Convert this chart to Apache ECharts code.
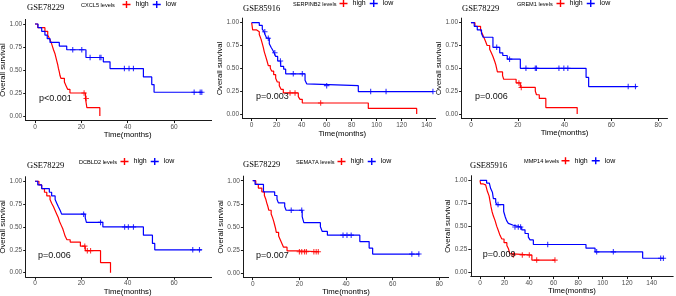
<!DOCTYPE html>
<html>
<head>
<meta charset="utf-8">
<script src="https://cdn.jsdelivr.net/npm/echarts@6/dist/echarts.min.js"></script>
<style>
html, body { margin: 0; padding: 0; background: #fff; }
#wrap { position: relative; width: 676px; height: 296px; overflow: hidden; }
</style>
</head>
<body>
<div id="wrap"></div>
<script>
// panel texts
var genes = ['CXCL5', 'SERPINB2', 'GREM1', 'DCBLD2', 'SEMA7A', 'MMP14'];
var cohorts = ['GSE78229', 'GSE85916', 'GSE78229', 'GSE78229', 'GSE78229', 'GSE85916'];
var pLabels = ['p<0.001', 'p=0.003', 'p=0.006', 'p=0.006', 'p=0.007', 'p=0.009'];
var groups = ['high', 'low'];
var yTicks = [0, 0.25, 0.5, 0.75, 1];
var xTicksShort = [0, 20, 40, 60, 80];
var xTicksLong = [0, 20, 40, 60, 80, 100, 120, 140];

// KM steps [time, survival], censor marks [time, survival]
var cxcl5High = [[0, 1], [1.2, 0.96], [4.3, 0.92], [5.5, 0.88], [6.3, 0.84], [7, 0.8], [7.5, 0.76], [8, 0.72], [8.6, 0.68], [9, 0.64], [9.4, 0.6], [9.8, 0.56], [10.1, 0.52], [10.5, 0.48], [10.8, 0.44], [11.2, 0.41], [12.7, 0.37], [13.4, 0.33], [14.1, 0.29], [15.1, 0.25], [21.8, 0.19], [22.4, 0.09], [28, 0]];
var cxcl5HighCens = [[21.2, 0.25], [22.1, 0.19]];
var cxcl5Low = [[0, 1], [1.3, 0.96], [2.9, 0.92], [4.3, 0.88], [5.3, 0.84], [6.5, 0.8], [10.5, 0.76], [13.7, 0.72], [22, 0.636], [29.5, 0.589], [32.4, 0.516], [46.8, 0.425], [50.4, 0.342], [51.4, 0.258], [72, 0.258]];
var cxcl5LowCens = [[16.3, 0.72], [20.2, 0.72], [23.8, 0.636], [28, 0.636], [28.5, 0.636], [38.6, 0.516], [40.6, 0.516], [42.5, 0.516], [68.7, 0.258], [71.3, 0.258], [72, 0.258]];

var serpinb2High = [[0, 1], [0.8, 0.92], [4, 0.9], [6.1, 0.87], [7.5, 0.82], [8.5, 0.77], [9.3, 0.73], [10.1, 0.68], [11.2, 0.63], [12.3, 0.58], [13.3, 0.53], [14.9, 0.5], [16, 0.47], [17.6, 0.43], [19.2, 0.39], [20.5, 0.35], [22.1, 0.31], [23.5, 0.27], [25.3, 0.23], [37.3, 0.19], [38.7, 0.16], [40.5, 0.12], [93.3, 0.06], [132, 0]];
var serpinb2HighCens = [[30.7, 0.23], [34.7, 0.23], [55.2, 0.12]];
var serpinb2Low = [[0, 1], [6.1, 0.97], [8.5, 0.93], [9.9, 0.9], [10.7, 0.87], [12, 0.83], [14.1, 0.77], [15.5, 0.73], [16.8, 0.7], [17.9, 0.67], [19.2, 0.63], [20.8, 0.58], [23.2, 0.52], [25.6, 0.49], [27.2, 0.44], [42.7, 0.37], [44, 0.33], [45.3, 0.31], [85.3, 0.245], [145, 0.245]];
var serpinb2LowCens = [[10.5, 0.9], [13.3, 0.83], [18.5, 0.67], [23, 0.58], [33.3, 0.44], [40.5, 0.44], [60, 0.31], [95.2, 0.245], [107.5, 0.245], [145, 0.245]];

var grem1High = [[0, 1], [1.7, 0.96], [4.1, 0.92], [4.8, 0.88], [5.5, 0.84], [6.3, 0.79], [6.9, 0.75], [8, 0.71], [8.7, 0.67], [9.4, 0.63], [10.1, 0.58], [10.6, 0.54], [11.3, 0.46], [13.5, 0.42], [14, 0.38], [19.3, 0.34], [21.1, 0.29], [27.5, 0.25], [28, 0.21], [29.2, 0.17], [32, 0.07], [45.4, 0]];
var grem1HighCens = [[20.5, 0.34], [21.5, 0.29]];
var grem1Low = [[0, 1], [1.4, 0.96], [2.7, 0.92], [4.5, 0.88], [5.2, 0.84], [9.4, 0.73], [12.3, 0.67], [13.6, 0.64], [15.5, 0.6], [21.1, 0.5], [49.2, 0.4], [50.3, 0.3], [71, 0.3]];
var grem1LowCens = [[11, 0.73], [16.5, 0.6], [23.5, 0.5], [27.5, 0.5], [28, 0.5], [37.6, 0.5], [39.7, 0.5], [41.4, 0.5], [67.2, 0.3], [70.3, 0.3]];

var dcbld2High = [[0, 1], [1.7, 0.96], [2.9, 0.92], [4.1, 0.88], [5.1, 0.84], [6.5, 0.8], [7.2, 0.76], [8, 0.72], [8.7, 0.68], [9.4, 0.64], [10.1, 0.6], [10.6, 0.56], [11.3, 0.52], [12, 0.48], [12.5, 0.44], [13, 0.4], [13.8, 0.36], [15.2, 0.335], [19.6, 0.29], [21.7, 0.24], [28.3, 0.11], [32.6, 0]];
var dcbld2HighCens = [[21.5, 0.29], [22.6, 0.24], [24, 0.24]];
var dcbld2Low = [[0, 1], [1.2, 0.96], [2.9, 0.92], [6.2, 0.88], [7.2, 0.84], [8.7, 0.8], [9.4, 0.76], [10.1, 0.72], [10.9, 0.68], [11.5, 0.64], [21.7, 0.6], [22.2, 0.55], [29.3, 0.5], [46.8, 0.41], [50.7, 0.32], [51.7, 0.25], [72, 0.25]];
var dcbld2LowCens = [[21, 0.64], [28.3, 0.55], [38.7, 0.5], [40.3, 0.5], [42.5, 0.5], [68.1, 0.25], [71, 0.25]];

var sema7aHigh = [[0, 1], [1.3, 0.96], [2.4, 0.92], [3.9, 0.88], [5, 0.84], [5.6, 0.8], [6, 0.76], [6.5, 0.72], [6.9, 0.68], [7.9, 0.64], [8.5, 0.6], [9, 0.56], [9.4, 0.52], [9.8, 0.48], [10.1, 0.44], [11.1, 0.4], [11.8, 0.36], [12.5, 0.32], [13.2, 0.28], [14.7, 0.24], [19.5, 0.23], [28.5, 0.23]];
var sema7aHighCens = [[20, 0.23], [21, 0.23], [22.2, 0.23], [23, 0.23], [26.2, 0.23], [27.2, 0.23], [28.1, 0.23]];
var sema7aLow = [[0, 1], [1, 0.96], [4.6, 0.88], [9.4, 0.84], [10.4, 0.8], [11, 0.76], [13.7, 0.72], [14.3, 0.68], [21.2, 0.61], [21.9, 0.545], [29, 0.5], [29.8, 0.45], [32, 0.41], [45.9, 0.34], [49.9, 0.27], [51.4, 0.205], [71.5, 0.205]];
var sema7aLowCens = [[16.5, 0.68], [21, 0.68], [38.7, 0.41], [40.4, 0.41], [42.2, 0.41], [68.2, 0.205], [71.2, 0.205]];

var mmp14High = [[0, 1], [0.5, 0.96], [2.7, 0.95], [4.6, 0.93], [6, 0.88], [7.4, 0.83], [8.2, 0.77], [9, 0.71], [9.8, 0.66], [10.9, 0.61], [12.3, 0.56], [13.6, 0.5], [15, 0.45], [16.3, 0.4], [17.8, 0.36], [19.6, 0.32], [21.9, 0.29], [23.3, 0.25], [24.2, 0.2], [25.1, 0.185], [42.3, 0.13], [61.3, 0.13]];
var mmp14HighCens = [[27.2, 0.185], [34.5, 0.185], [40.2, 0.185], [46.2, 0.13], [61.1, 0.13]];
var mmp14Low = [[0, 1], [5.4, 0.97], [7.6, 0.95], [8.7, 0.91], [10.1, 0.87], [10.9, 0.8], [12.8, 0.76], [13.6, 0.735], [19.3, 0.66], [20.6, 0.6], [21.7, 0.56], [23.1, 0.53], [24.5, 0.51], [27.2, 0.49], [34, 0.46], [36.7, 0.42], [39.4, 0.38], [40.8, 0.35], [43.5, 0.3], [86.4, 0.26], [93.8, 0.22], [132.6, 0.15], [150, 0.15]];
var mmp14LowCens = [[14.7, 0.735], [28.5, 0.49], [31.2, 0.49], [33.1, 0.49], [55.2, 0.3], [95.1, 0.22], [108.7, 0.22], [147.3, 0.15], [149.5, 0.15]];

var curves = [
    [cxcl5High, cxcl5Low, cxcl5HighCens, cxcl5LowCens],
    [serpinb2High, serpinb2Low, serpinb2HighCens, serpinb2LowCens],
    [grem1High, grem1Low, grem1HighCens, grem1LowCens],
    [dcbld2High, dcbld2Low, dcbld2HighCens, dcbld2LowCens],
    [sema7aHigh, sema7aLow, sema7aHighCens, sema7aLowCens],
    [mmp14High, mmp14Low, mmp14HighCens, mmp14LowCens]
];

// layout of each cropped panel (box = div, grid = left/top/width/height inside it)
var layout = [
    { box: [0, 0, 212, 148], grid: [25.7, 19.4, 203.9, 101.2], x: [-4, 84], ticks: xTicksShort, title: [27, 3], lab: [81, 1.5], leg: 122.5, p: [39, 94.5], xGap: 10.6 },
    { box: [212, 0, 224, 148], grid: [30.6, 18.1, 199.4, 100.4], x: [-7.25, 152.25], ticks: xTicksLong, title: [31, 4], lab: [81, 0.5], leg: 127.5, p: [44, 92.5], xGap: 11.5 },
    { box: [436, 0, 240, 148], grid: [25.6, 18.1, 205.9, 100.4], x: [-4, 84], ticks: xTicksShort, title: [26, 4], lab: [81, 0.5], leg: 120.5, p: [39, 92.5], xGap: 10.3 },
    { box: [0, 148, 212, 148], grid: [25.7, 28.7, 203.9, 100.5], x: [-4, 84], ticks: xTicksShort, title: [27, 13], lab: [79, 10.5], leg: 120.5, p: [38, 103.2], xGap: 10.2 },
    { box: [212, 148, 237, 148], grid: [31.4, 28.1, 205.3, 101.5], x: [-4, 84], ticks: xTicksShort, title: [31, 12.4], lab: [84, 10.5], leg: 125.5, p: [44, 103.2], xGap: 9.9 },
    { box: [436, 148, 240, 148], grid: [34.8, 27.7, 202.4, 100.9], x: [-7.5, 157.5], ticks: xTicksLong, title: [34, 13], lab: [88, 9.8], leg: 125.5, p: [46.7, 102.2], xGap: 10.3 }
];

var sans = '"Liberation Sans", Arial, sans-serif';
var serif = '"Liberation Serif", "Times New Roman", serif';
var plusPath = 'path://M-0.6,-3H0.6V-0.6H3V0.6H0.6V3H-0.6V0.6H-3V-0.6H-0.6Z';
var legendIcon = 'path://M0,2.8H3.3V0H4.7V2.8H8V4.2H4.7V7H3.3V4.2H0Z';
var colors = ['#FF0000', '#0000FF'];

function axisBase() {
    return {
        axisLine: { show: true, onZero: false, lineStyle: { color: '#1a1a1a', width: 1 } },
        splitLine: { show: false },
        nameLocation: 'middle',
        nameMoveOverlap: false,
        nameTextStyle: { fontSize: 7.8, color: '#000', fontFamily: sans }
    };
}

layout.forEach(function (lay, i) {
    var el = document.createElement('div');
    el.style.cssText = 'position:absolute;left:' + lay.box[0] + 'px;top:' + lay.box[1] + 'px;width:' +
        lay.box[2] + 'px;height:' + lay.box[3] + 'px;';
    document.getElementById('wrap').appendChild(el);
    var chart = echarts.init(el, null, { renderer: 'canvas' });

    var xAxis = axisBase();
    xAxis.type = 'value';
    xAxis.min = lay.x[0];
    xAxis.max = lay.x[1];
    xAxis.name = 'Time(months)';
    xAxis.nameGap = lay.xGap;
    xAxis.axisTick = { show: true, length: 2.5, customValues: lay.ticks, lineStyle: { color: '#1a1a1a' } };
    xAxis.axisLabel = { customValues: lay.ticks, fontSize: 6.5, color: '#4d4d4d', margin: 3, fontFamily: sans };

    var yAxis = axisBase();
    yAxis.type = 'value';
    yAxis.min = -0.05;
    yAxis.max = 1.05;
    yAxis.name = 'Overall survival';
    yAxis.nameGap = 18.5;
    yAxis.axisTick = { show: true, length: 2.5, customValues: yTicks, lineStyle: { color: '#1a1a1a' } };
    yAxis.axisLabel = {
        customValues: yTicks, fontSize: 6.5, color: '#4d4d4d', margin: 3.5, fontFamily: sans,
        formatter: function (v) { return v.toFixed(2); }
    };

    var c = curves[i];
    var series = [];
    for (var g = 0; g < 2; g++) {
        series.push({
            name: groups[g],
            type: 'line',
            step: 'end',
            data: c[g],
            showSymbol: false,
            symbol: 'none',
            itemStyle: { color: colors[g] },
            lineStyle: { color: colors[g], width: 1.2 },
            z: 2
        });
    }
    for (var g2 = 0; g2 < 2; g2++) {
        series.push({
            name: groups[g2] + ' censor',
            type: 'scatter',
            data: c[g2 + 2],
            symbol: plusPath,
            symbolSize: 5.5,
            itemStyle: { color: colors[g2] },
            silent: true,
            z: 3
        });
    }

    chart.setOption({
        animation: false,
        textStyle: { fontFamily: sans },
        grid: {
            left: lay.grid[0], top: lay.grid[1], width: lay.grid[2], height: lay.grid[3],
            containLabel: false, outerBoundsMode: 'none'
        },
        title: {
            text: cohorts[i],
            left: lay.title[0],
            top: lay.title[1],
            padding: 0,
            textStyle: { fontFamily: serif, fontSize: 8.5, fontWeight: 'normal', color: '#000' }
        },
        legend: {
            data: groups,
            left: lay.leg,
            top: lay.lab[1] - 0.5,
            padding: 0,
            itemWidth: 8,
            itemHeight: 7,
            itemGap: 4,
            icon: legendIcon,
            selectedMode: false,
            textStyle: { fontSize: 7, color: '#000', fontFamily: sans }
        },
        graphic: [
            {
                type: 'text', left: lay.lab[0], top: lay.lab[1] + 1,
                style: { text: genes[i] + ' levels', fontSize: 5.6, fontFamily: sans, fill: '#000' }
            },
            {
                type: 'text', left: lay.p[0], top: lay.p[1], z: 10,
                style: { text: pLabels[i], fontSize: 9, fontFamily: sans, fill: '#111' }
            }
        ],
        xAxis: xAxis,
        yAxis: yAxis,
        series: series
    });
});
</script>
</body>
</html>
